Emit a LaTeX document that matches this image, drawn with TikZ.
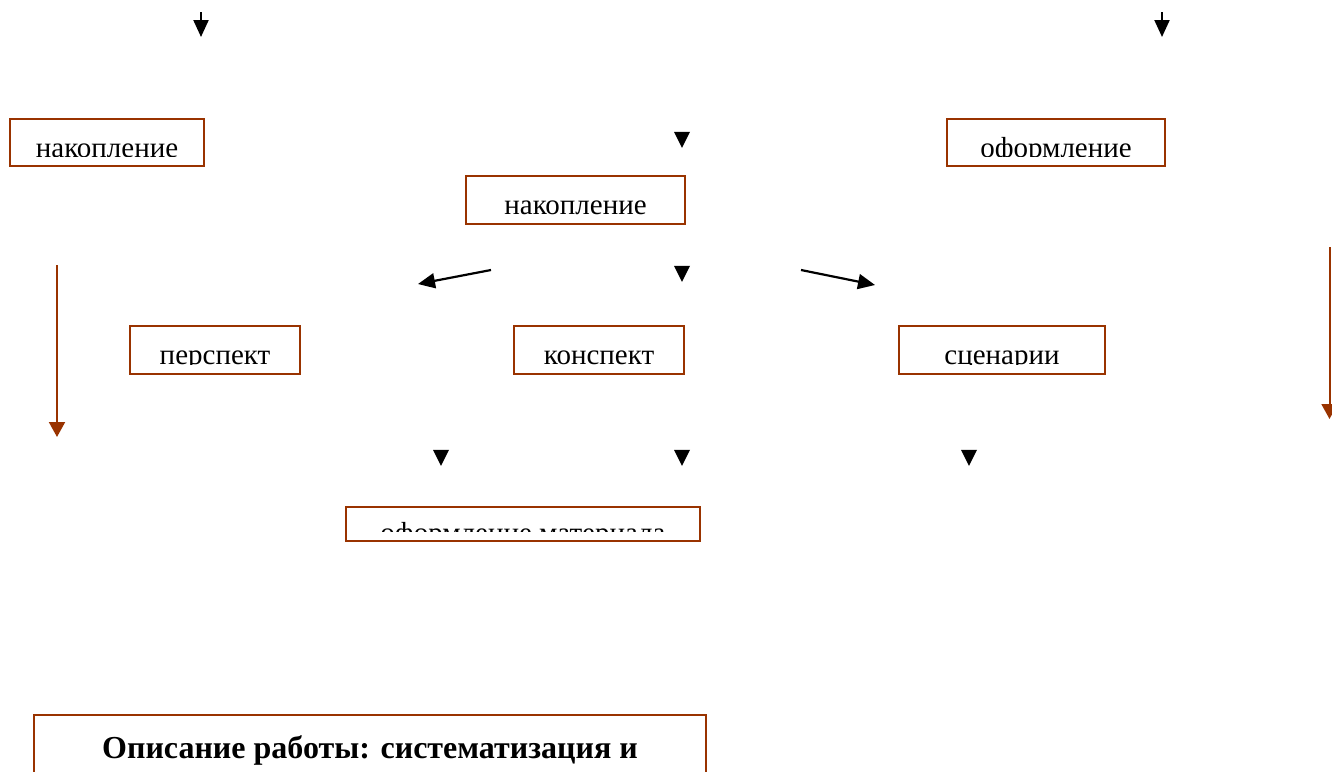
\documentclass[tikz,border=0pt]{standalone}
\usepackage{fontspec}
\setmainfont{Liberation Serif}
\usetikzlibrary{arrows.meta}
\usetikzlibrary{shapes.geometric}
\definecolor{brick}{RGB}{153,51,0}
\tikzset{
  textdrop/.initial=19pt,
  box/.style={rectangle, draw=brick, line width=1pt, inner sep=0pt,
    path picture={
      \clip (path picture bounding box.north west) rectangle ([yshift=5pt]path picture bounding box.south east);
      \node[anchor=base, inner sep=0pt, font=\fontsize{14.5}{17}\selectfont] at ([yshift=-\pgfkeysvalueof{/tikz/textdrop}]path picture bounding box.north) {#1};
    }},
  plainbox/.style={rectangle, draw=brick, line width=1pt, inner xsep=0pt, inner ysep=0pt},
  head/.style={isosceles triangle, isosceles triangle stretches, shape border rotate=-90, fill, inner sep=0pt, minimum width=8pt, minimum height=8pt},
  arrow/.style={draw, line width=1.1pt, -{Triangle[length=8.5pt, width=7.5pt]}},
  brownarrow/.style={draw=brick, line width=1pt, -{Triangle[length=7.5pt, width=8pt]}}
  }

\begin{document}
\begin{tikzpicture}[x=0.5pt, y=-0.5pt]
	\useasboundingbox (0,0) rectangle (1332,771);

	% Nodes
	\node[box=накопление, minimum width=97pt, minimum height=23.5pt] (acc) at (107,142.5) {};
	\node[box=оформление, minimum width=109pt, minimum height=23.5pt] (design) at (1056,142.5) {};
	\node[box=накопление, minimum width=109.5pt, minimum height=24pt] (accmid) at (575.5,200) {};
	\node[box=перспект, minimum width=85pt, minimum height=24pt] (persp) at (215,350) {};
	\node[box=конспект, minimum width=85pt, minimum height=24pt] (summary) at (599,350) {};
	\node[box=сценарии, minimum width=103pt, minimum height=24pt] (script) at (1002,350) {};
	\node[box=оформление материала, textdrop=17.5pt, minimum width=177pt, minimum height=17pt] (material) at (523,524) {};
	\node[plainbox, anchor=north, minimum width=336pt, text height=21.5pt, text depth=28.5pt, font=\fontsize{16}{19}\selectfont\bfseries] (descr) at (370,714) {Описание работы: систематизация и};

	% Heads
	\node[head, anchor=apex] (h1) at (682,149) {};
	\node[head, anchor=apex] (h2) at (682,283) {};
	\node[head, anchor=apex] (h3) at (441,467) {};
	\node[head, anchor=apex] (h4) at (682,467) {};
	\node[head, anchor=apex] (h5) at (969,467) {};

	% Arrow
	\coordinate (tla) at (201,12);
	\coordinate (tlb) at (201,37);
	\coordinate (tra) at (1162,12);
	\coordinate (trb) at (1162,37);
	\coordinate (dla) at (491,270);
	\coordinate (dlb) at (418,284);
	\coordinate (dra) at (801,270);
	\coordinate (drb) at (875,285);
	\coordinate (bla) at (57,265);
	\coordinate (blb) at (57,437);
	\coordinate (bra) at (1329.5,247);
	\coordinate (brb) at (1329.5,419);

	\draw [arrow] (tla) -- (tlb);
	\draw [arrow] (tra) -- (trb);
	\draw [arrow] (dla) -- (dlb);
	\draw [arrow] (dra) -- (drb);
	\draw [brownarrow] (bla) -- (blb);
	\draw [brownarrow] (bra) -- (brb);
\end{tikzpicture}
\end{document}
